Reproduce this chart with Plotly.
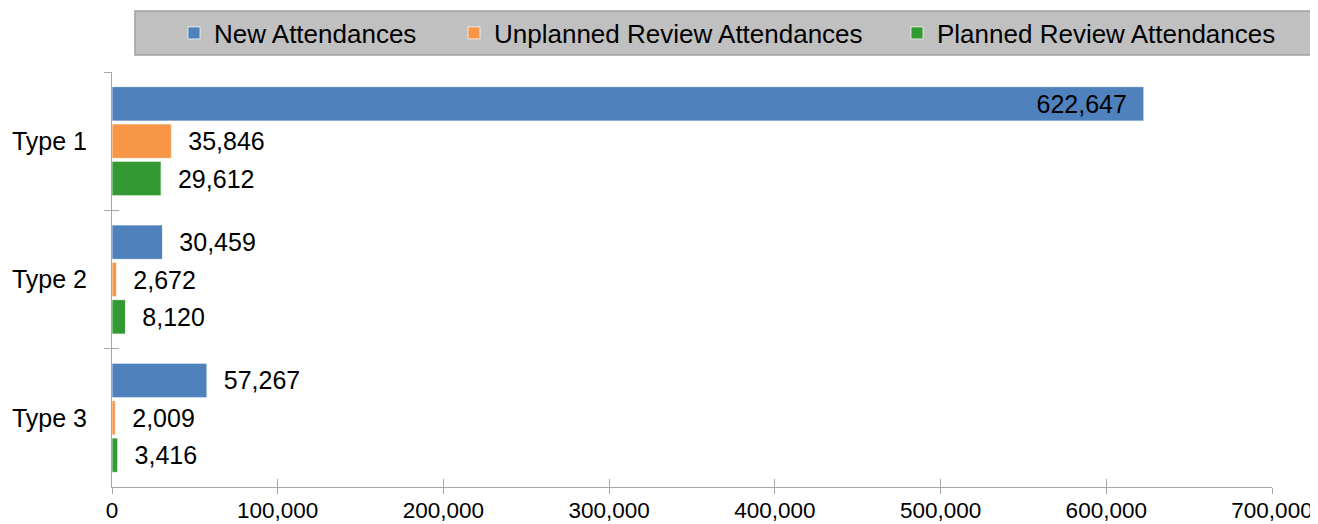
import plotly.graph_objects as go

categories = ["Type 1", "Type 2", "Type 3"]
new_att = [622647, 30459, 57267]
unplanned = [35846, 2672, 2009]
planned = [29612, 8120, 3416]
series_names = ["New Attendances", "Unplanned Review Attendances", "Planned Review Attendances"]
colors = ["#4F81BD", "#F79646", "#339933"]
x_ticks = [0, 100000, 200000, 300000, 400000, 500000, 600000, 700000]

# the page body has an 8px margin, so the figure is drawn 8px in from the top-left
OFF = 8
SW, SH = 1318, 524            # screen size
W, H = SW - OFF, SH - OFF     # figure size
PL, PR, PT, PB = 112, 1272, 72, 487   # plot area in screen pixels
L, R, T, B = PL - OFF, SW - PR, PT - OFF, SH - PB
pw, ph = PR - PL, PB - PT

def px_x(p):   # screen px -> paper x
    return (p - PL) / pw

def px_y(p):   # screen px -> paper y
    return (PB - p) / ph

def cx(p):     # screen px -> container x
    return (p - OFF) / W

def cy(p):     # screen px -> container y
    return 1 - (p - OFF) / H

NB = "\u00a0\u00a0"
FONT = "Liberation Sans, Arial"
legend_ids = ["legend", "legend2", "legend3"]
legend_text_x = [214, 494, 937]

fig = go.Figure()
for name, vals, col, lid in zip(series_names, [new_att, unplanned, planned], colors, legend_ids):
    inside = [v > 300000 for v in vals]
    fig.add_trace(go.Bar(
        name=name, y=categories, x=vals, orientation="h", legend=lid,
        marker=dict(color=col, line=dict(color="rgba(255,255,255,0.7)", width=1)),
        texttemplate=[("%{x:,}" + NB) if i else (NB + "%{x:,}") for i in inside],
        textposition=["inside" if i else "outside" for i in inside],
        insidetextanchor="end",
        textfont=dict(family=FONT, size=25, color="black"),
        insidetextfont=dict(family=FONT, size=25, color="black"),
        outsidetextfont=dict(family=FONT, size=25, color="black"),
        cliponaxis=False,
    ))

# invisible trace carrying the inner half of the crossing tick marks
fig.add_trace(go.Scatter(x=[0, 0, 0], y=categories, xaxis="x2", yaxis="y2",
                         mode="markers", marker=dict(opacity=0), showlegend=False,
                         hoverinfo="skip"))

legend_style = dict(orientation="h", xref="container", yref="container",
                    xanchor="left", yanchor="middle", y=cy(33),
                    bgcolor="rgba(0,0,0,0)", borderwidth=0,
                    font=dict(family=FONT, size=26, color="black"))
legends = {lid: dict(legend_style, x=cx(tx - 40)) for lid, tx in zip(legend_ids, legend_text_x)}

axis_col = "#A6A6A6"
fig.update_layout(
    width=W, height=H,
    margin=dict(l=L, r=R, t=T, b=B, pad=0, autoexpand=False),
    paper_bgcolor="white", plot_bgcolor="white",
    barmode="group", bargap=0.19, bargroupgap=0.08,
    font=dict(family=FONT, color="black"),
    showlegend=True,
    **legends,
    xaxis=dict(range=[0, 700000], tickvals=x_ticks, tickformat=",", showgrid=False,
               zeroline=False, showline=True, linecolor=axis_col, linewidth=1,
               ticks="outside", ticklen=6, tickcolor=axis_col, tickwidth=1,
               automargin=False, ticklabelstandoff=-3,
               tickfont=dict(size=22.5, color="black")),
    yaxis=dict(type="category", categoryarray=categories, range=[2.5, -0.5],
               showgrid=False, zeroline=False, showline=True, linecolor=axis_col,
               linewidth=1, ticks="outside", ticklen=7, tickcolor=axis_col,
               tickson="boundaries", ticklabelstandoff=19, automargin=False,
               tickfont=dict(size=25, color="black")),
    xaxis2=dict(overlaying="x", anchor="y2", side="bottom", range=[0, 700000],
                tickvals=x_ticks, showticklabels=False, showgrid=False, zeroline=False,
                showline=False, ticks="inside", ticklen=8, tickcolor=axis_col, tickwidth=1,
                automargin=False),
    yaxis2=dict(overlaying="y", anchor="x2", side="left", type="category",
                categoryarray=categories, range=[2.5, -0.5], showticklabels=False,
                showgrid=False, zeroline=False, showline=False, ticks="inside",
                ticklen=7, tickcolor=axis_col, tickson="boundaries", automargin=False),
    shapes=[dict(type="rect", xref="paper", yref="paper",
                 x0=px_x(135), x1=px_x(1318.5), y0=px_y(55), y1=px_y(11),
                 fillcolor="#C0C0C0", line=dict(color="#A0A0A0", width=1.5),
                 layer="below")],
)

fig.write_html("out.html")
